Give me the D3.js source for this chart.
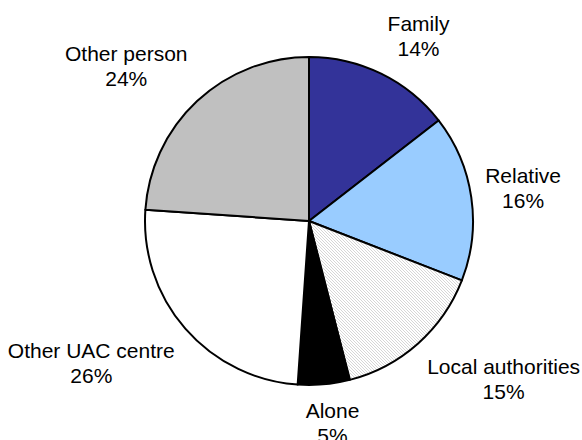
<!DOCTYPE html>
<html>
<head>
<meta charset="utf-8">
<script src="https://cdn.jsdelivr.net/npm/d3@7"></script>
<style>
  body { margin: 0; background: #fff; }
  svg { display: block; }
  text { font-family: "Liberation Sans", Arial, sans-serif; font-size: 21px; fill: #000; }
</style>
</head>
<body>
<svg id="chart" width="582" height="440"></svg>
<script>
// slice data, clockwise from 12 o'clock
const categories = ['Family', 'Relative', 'Local authorities', 'Alone', 'Other UAC centre', 'Other person'];
const shares = [14.5, 16.4, 15.1, 5.1, 25.0, 23.9];
const pctLabels = ['14%', '16%', '15%', '5%', '26%', '24%'];
const fills = ['#333399', '#99CCFF', 'url(#hatch)', '#000000', '#FFFFFF', '#C0C0C0'];

const width = 582;
const height = 440;
const cx = 309, cy = 221;
const radius = 164;
const labelGap = 14;
const lineStep = 25;

const svg = d3.select('#chart');

// light diagonal hatch used for "Local authorities"
const pat = svg.append('defs').append('pattern')
  .attr('id', 'hatch')
  .attr('width', 3).attr('height', 3)
  .attr('patternUnits', 'userSpaceOnUse');
pat.append('rect').attr('width', 3).attr('height', 3).attr('fill', '#fff');
pat.append('path')
  .attr('d', 'M-1,-1L4,4M-1,2L1,4M2,-1L4,1')
  .attr('stroke', '#c4c4c4')
  .attr('stroke-width', 0.7);

const pie = d3.pie().sort(null).value(d => d);
const arc = d3.arc().innerRadius(0).outerRadius(radius);

const g = svg.append('g').attr('transform', `translate(${cx},${cy})`);

const arcs = pie(shares);

g.selectAll('path.slice')
  .data(arcs)
  .enter().append('path')
  .attr('class', 'slice')
  .attr('d', arc)
  .attr('fill', (d, i) => fills[i])
  .attr('stroke', '#000')
  .attr('stroke-width', 2)
  .attr('stroke-linejoin', 'round');

// labels outside the pie, the box pushed away from the anchor point
const clamp = v => Math.max(-1, Math.min(1, v));
const labels = g.selectAll('g.lbl')
  .data(arcs)
  .enter().append('g')
  .attr('class', 'lbl');

labels.each(function (d, i) {
  const el = d3.select(this);
  const t = el.append('text').attr('text-anchor', 'middle');
  t.append('tspan').attr('x', 0).attr('y', -lineStep / 2).attr('dy', '0.36em').text(categories[i]);
  t.append('tspan').attr('x', 0).attr('y', lineStep / 2).attr('dy', '0.36em').text(pctLabels[i]);

  const w = t.node().getBBox().width;
  const h = lineStep * 2;
  const a = (d.startAngle + d.endAngle) / 2;
  const s = Math.sin(a), c = Math.cos(a);
  const r = radius + labelGap;
  const ax = r * s, ay = -r * c;
  const bx = ax + clamp(3 * s) * w / 2;
  const by = ay - clamp(2 * c) * h / 2;
  el.attr('transform', `translate(${bx},${by})`);
});
</script>
</body>
</html>
